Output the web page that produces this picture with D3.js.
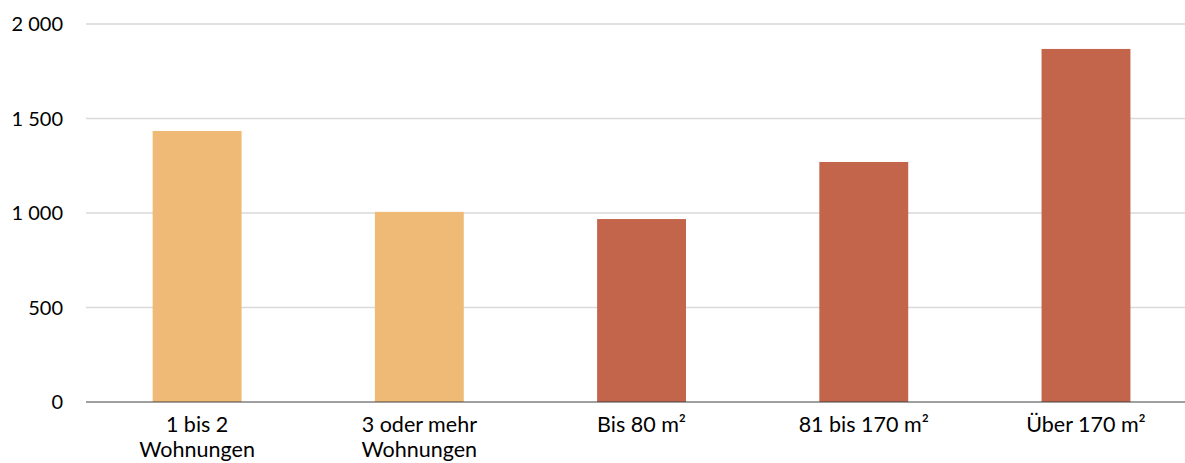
<!DOCTYPE html>
<html><head><meta charset="utf-8">
<script src="https://cdn.jsdelivr.net/npm/d3@7"></script>
<style>body{margin:0;background:#fff}svg{display:block}text{font-family:Lato,"Open Sans",sans-serif;fill:#000}</style>
</head><body><svg id="c" width="1185" height="463"></svg>
<script>
const categories = ["1 bis 2\nWohnungen", "3 oder mehr\nWohnungen", "Bis 80 m²", "81 bis 170 m²", "Über 170 m²"];
const values = [1434, 1006, 968, 1270, 1868];
const groups = ["a", "a", "b", "b", "b"];
const yTicks = [0, 500, 1000, 1500, 2000];
const yTickLabels = ["0", "500", "1 000", "1 500", "2 000"];
const colors = {a: "#EEBA75", b: "#C3654A"};

const svg = d3.select("#c");
const x = d3.scaleBand().domain(categories).range([86, 1197.1]).paddingInner(0.6).paddingOuter(0.3);
const y = d3.scaleLinear().domain([0, 2000]).range([402, 24]);

svg.append("g").selectAll("line").data(yTicks.filter(d => d > 0)).join("line")
  .attr("x1", 86).attr("x2", 1185).attr("y1", d => y(d)).attr("y2", d => y(d))
  .attr("stroke", "#d9d9d9").attr("stroke-width", 1.3);

svg.append("g").selectAll("rect").data(values).join("rect")
  .attr("x", (d, i) => x(categories[i])).attr("width", x.bandwidth())
  .attr("y", d => y(d)).attr("height", d => y(0) - y(d))
  .attr("fill", (d, i) => colors[groups[i]]);

svg.append("line").attr("x1", 86).attr("x2", 1185).attr("y1", y(0)).attr("y2", y(0))
  .attr("stroke", "#404040").attr("stroke-width", 1.2);

svg.append("g").selectAll("text").data(yTicks).join("text")
  .attr("x", 63).attr("y", d => y(d)).attr("dy", "0.35em").attr("text-anchor", "end")
  .attr("font-size", 20).text((d, i) => yTickLabels[i]);

const xl = svg.append("g").selectAll("text").data(categories).join("text")
  .attr("x", d => x(d) + x.bandwidth() / 2).attr("y", 432)
  .attr("text-anchor", "middle").attr("font-size", 21.5);
xl.each(function(d) {
  const lines = d.split("\n");
  d3.select(this).selectAll("tspan").data(lines).join("tspan")
    .attr("x", x(d) + x.bandwidth() / 2).attr("dy", (l, j) => j === 0 ? 0 : 25).text(l => l);
});
</script></body></html>
